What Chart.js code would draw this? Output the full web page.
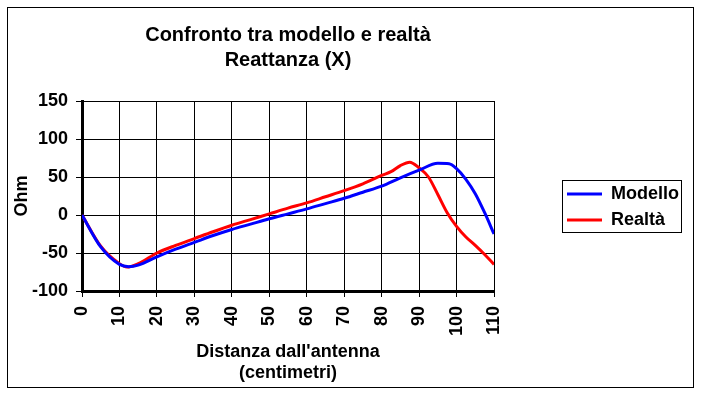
<!DOCTYPE html>
<html>
<head>
<meta charset="utf-8">
<script src="https://cdn.jsdelivr.net/npm/chart.js@4.4.0/dist/chart.umd.min.js"></script>
<style>
  body { margin: 0; background: #fff; }
  #wrap { width: 701px; height: 394px; }
</style>
</head>
<body>
<div id="wrap"><canvas id="chart"></canvas></div>
<script>
// distanza dall'antenna (cm) e reattanza (Ohm)
const modelloX = [0, 5, 10, 12.5, 15, 20, 25, 30, 35, 40, 45, 50, 55, 60, 65, 70, 75, 80, 85, 90, 95, 98, 100, 102.5, 105, 107.5, 110];
const modelloY = [0, -42, -65, -68, -66, -55, -45, -36, -27, -19, -12, -5, 1.5, 8, 15, 22, 30, 38, 49, 59, 68, 67.5, 61, 47, 28, 3, -25];

const realtaX = [0, 5, 10, 12, 15, 20, 25, 30, 35, 40, 45, 50, 55, 60, 65, 70, 75, 80, 82.5, 85, 87.5, 90, 92.5, 95, 97.5, 100, 102.5, 105, 107.5, 110];
const realtaY = [0, -41, -64, -68.5, -64, -50, -40, -31, -22, -13.5, -6, 1.5, 9, 16, 24, 32, 41, 52, 57, 65, 69.5, 62, 50, 27, 3, -15, -29, -40, -52, -65];

const xTicks = [0, 10, 20, 30, 40, 50, 60, 70, 80, 90, 100, 110];
const yTicks = [-100, -50, 0, 50, 100, 150];

const toPoints = (xs, ys) => xs.map((x, i) => ({ x: x, y: ys[i] }));

const FONT = "'Liberation Sans', Arial, sans-serif";

// sposta la legenda dove si trova nel grafico originale
const legendPlace = {
  id: 'legendPlace',
  afterLayout(chart) {
    const lg = chart.legend;
    const dx = 559 - lg.left;
    const dy = 11;
    lg.left += dx; lg.right += dx;
    lg.top += dy; lg.bottom += dy;
  }
};

// cornice esterna e riquadro della legenda
const frame = {
  id: 'frame',
  afterDraw(chart) {
    const ctx = chart.ctx;
    ctx.save();
    ctx.strokeStyle = '#000';
    ctx.lineWidth = 1;
    ctx.strokeRect(7.5, 7.5, 686, 380);
    const boxes = chart.legend.legendHitBoxes;
    if (boxes && boxes.length) {
      let l = Infinity, t = Infinity, r = -Infinity, b = -Infinity;
      boxes.forEach(h => {
        l = Math.min(l, h.left); t = Math.min(t, h.top);
        r = Math.max(r, h.left + h.width); b = Math.max(b, h.top + h.height);
      });
      ctx.strokeRect(Math.round(l - 5) + 0.5, Math.round(t - 5) + 0.5, Math.round(r - l + 7), Math.round(b - t + 8));
    }
    ctx.restore();
  }
};

new Chart(document.getElementById('chart'), {
  type: 'line',
  data: {
    datasets: [
      {
        label: 'Modello',
        data: toPoints(modelloX, modelloY),
        borderColor: '#0000ff',
        backgroundColor: '#0000ff',
        borderWidth: 3,
        pointRadius: 0,
        pointStyle: 'line',
        cubicInterpolationMode: 'monotone'
      },
      {
        label: 'Realtà',
        data: toPoints(realtaX, realtaY),
        borderColor: '#ff0000',
        backgroundColor: '#ff0000',
        borderWidth: 3,
        pointRadius: 0,
        pointStyle: 'line',
        cubicInterpolationMode: 'monotone'
      }
    ]
  },
  options: {
    responsive: true,
    maintainAspectRatio: false,
    animation: false,
    layout: { padding: { left: 11, right: 77, top: 8, bottom: 10 } },
    plugins: {
      title: {
        display: true,
        fullSize: false,
        text: ['Confronto tra modello e realtà', 'Reattanza (X)'],
        color: '#000',
        font: { family: FONT, size: 20, weight: 'bold', lineHeight: 1.25 },
        padding: { top: 15, bottom: 28 }
      },
      legend: {
        position: 'right',
        labels: {
          usePointStyle: true,
          pointStyle: 'line',
          pointStyleWidth: 35,
          color: '#000',
          font: { family: FONT, size: 18, weight: 'bold' },
          padding: 8
        }
      },
      tooltip: { enabled: false }
    },
    scales: {
      x: {
        type: 'linear',
        min: 0,
        max: 110,
        afterBuildTicks: axis => { axis.ticks = xTicks.map(v => ({ value: v })); },
        afterFit: axis => { axis.height = 93; },
        ticks: {
          minRotation: 90,
          maxRotation: 90,
          color: '#000',
          padding: 9,
          font: { family: FONT, size: 18, weight: 'bold' }
        },
        grid: { color: '#000', lineWidth: 1, tickLength: 6, tickColor: '#000' },
        border: { color: '#000', width: 3 },
        title: {
          display: true,
          text: ["Distanza dall'antenna", '(centimetri)'],
          color: '#000',
          font: { family: FONT, size: 18, weight: 'bold', lineHeight: 1.17 },
          padding: { top: 0, bottom: 0 }
        }
      },
      y: {
        min: -100,
        max: 150,
        afterBuildTicks: axis => { axis.ticks = yTicks.map(v => ({ value: v })); },
        afterFit: axis => { axis.width = 71; },
        ticks: {
          color: '#000',
          padding: 8,
          font: { family: FONT, size: 18, weight: 'bold' }
        },
        grid: { color: '#000', lineWidth: 1, tickLength: 6, tickColor: '#000' },
        border: { color: '#000', width: 3 },
        title: {
          display: true,
          text: 'Ohm',
          color: '#000',
          font: { family: FONT, size: 18, weight: 'bold' },
          padding: { top: 0, bottom: 0 }
        }
      }
    }
  },
  plugins: [legendPlace, frame]
});
</script>
</body>
</html>
